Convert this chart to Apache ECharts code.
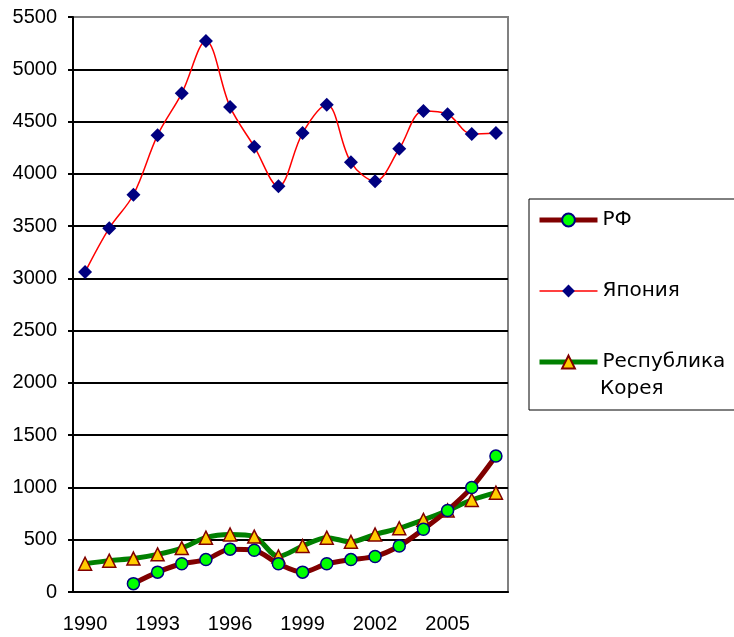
<!DOCTYPE html>
<html>
<head>
<meta charset="utf-8">
<script src="https://cdn.jsdelivr.net/npm/echarts@6/dist/echarts.min.js"></script>
<style>
  html, body { margin: 0; padding: 0; background: #fff; }
  #chart { width: 734px; height: 637px; }
</style>
</head>
<body>
<div id="chart"></div>
<script>
// годы и значения
var years = ['1990', '1991', '1992', '1993', '1994', '1995', '1996', '1997', '1998',
             '1999', '2000', '2001', '2002', '2003', '2004', '2005', '2006', '2007'];
var rfValues = [null, null, 80, 190, 270, 310, 410, 400, 270,
                190, 270, 310, 340, 440, 600, 780, 1000, 1300];
var japanValues = [3060, 3480, 3800, 4370, 4770, 5270, 4640, 4260, 3880,
                   4390, 4660, 4110, 3930, 4240, 4600, 4570, 4380, 4390];
var koreaValues = [270, 300, 320, 360, 420, 520, 550, 530, 340,
                   440, 520, 480, 550, 610, 690, 780, 880, 950];
var seriesNames = ['РФ', 'Япония', 'Республика Корея'];

var chart = echarts.init(document.getElementById('chart'));

var axisFont = 'Liberation Sans, Arial, sans-serif';

// линии сетки: черные, верхняя граница серая
var gridColors = [];
for (var i = 0; i < 11; i++) gridColors.push('#000000');
gridColors.push('#808080');

var option = {
    animation: false,
    backgroundColor: '#ffffff',
    grid: {
        left: 73, right: 226, top: 17, bottom: 45,
        show: true, borderColor: '#808080', borderWidth: 2
    },
    legend: {
        orient: 'vertical',
        left: 529, top: 199,
        padding: [10, 30, 37, 8],
        itemGap: 49,
        itemWidth: 58,
        itemHeight: 16,
        backgroundColor: '#ffffff',
        borderColor: '#000000',
        borderWidth: 1,
        data: [
            { name: seriesNames[0], lineStyle: { width: 5 } },
            { name: seriesNames[1], lineStyle: { width: 1.5 } },
            { name: seriesNames[2], lineStyle: { width: 5 } }
        ],
        formatter: function(name)
        {
            return name == 'Республика Корея' ? 'Республика' : name;
        },
        textStyle: { fontFamily: 'DejaVu Sans', fontSize: 20, lineHeight: 22, color: '#000' }
    },
    graphic: [{
        type: 'text',
        left: 600, top: 379,
        z: 100,
        style: { text: 'Корея', font: '20px "DejaVu Sans"', fill: '#000' }
    }],
    xAxis: {
        type: 'category',
        data: years,
        boundaryGap: true,
        axisLine: { lineStyle: { color: '#000', width: 2 } },
        axisTick: { interval: 0, length: 5, lineStyle: { color: '#000', width: 2 } },
        axisLabel: {
            interval: 2, margin: 22,
            fontFamily: axisFont, fontSize: 20, color: '#000'
        },
        splitLine: { show: false }
    },
    yAxis: {
        type: 'value',
        min: 0, max: 5500, interval: 500,
        axisLine: { show: true, lineStyle: { color: '#000', width: 2 } },
        axisTick: { show: true, length: 5, lineStyle: { color: '#000', width: 2 } },
        axisLabel: {
            margin: 16, fontFamily: axisFont, fontSize: 20, color: '#000',
            formatter: function(v) { return String(v); }
        },
        splitLine: { show: true, lineStyle: { color: gridColors, width: 2 } }
    },
    series: [
        {
            name: seriesNames[0],
            type: 'line',
            data: rfValues,
            smooth: 0.3,
            symbol: 'circle',
            symbolSize: 12,
            lineStyle: { color: '#800000', width: 5 },
            itemStyle: { color: '#00ff00', borderColor: '#000080', borderWidth: 1.5 },
            z: 3
        },
        {
            name: seriesNames[1],
            type: 'line',
            data: japanValues,
            smooth: 0.35,
            symbol: 'diamond',
            symbolSize: 14,
            lineStyle: { color: '#ff0000', width: 1.5 },
            itemStyle: { color: '#000080', borderColor: '#000080', borderWidth: 0 },
            z: 4
        },
        {
            name: seriesNames[2],
            type: 'line',
            data: koreaValues,
            smooth: 0.3,
            symbol: 'triangle',
            symbolSize: 13,
            lineStyle: { color: '#008000', width: 5 },
            itemStyle: { color: '#ffcc00', borderColor: '#800000', borderWidth: 1.5 },
            z: 2
        }
    ]
};

chart.setOption(option);
</script>
</body>
</html>
